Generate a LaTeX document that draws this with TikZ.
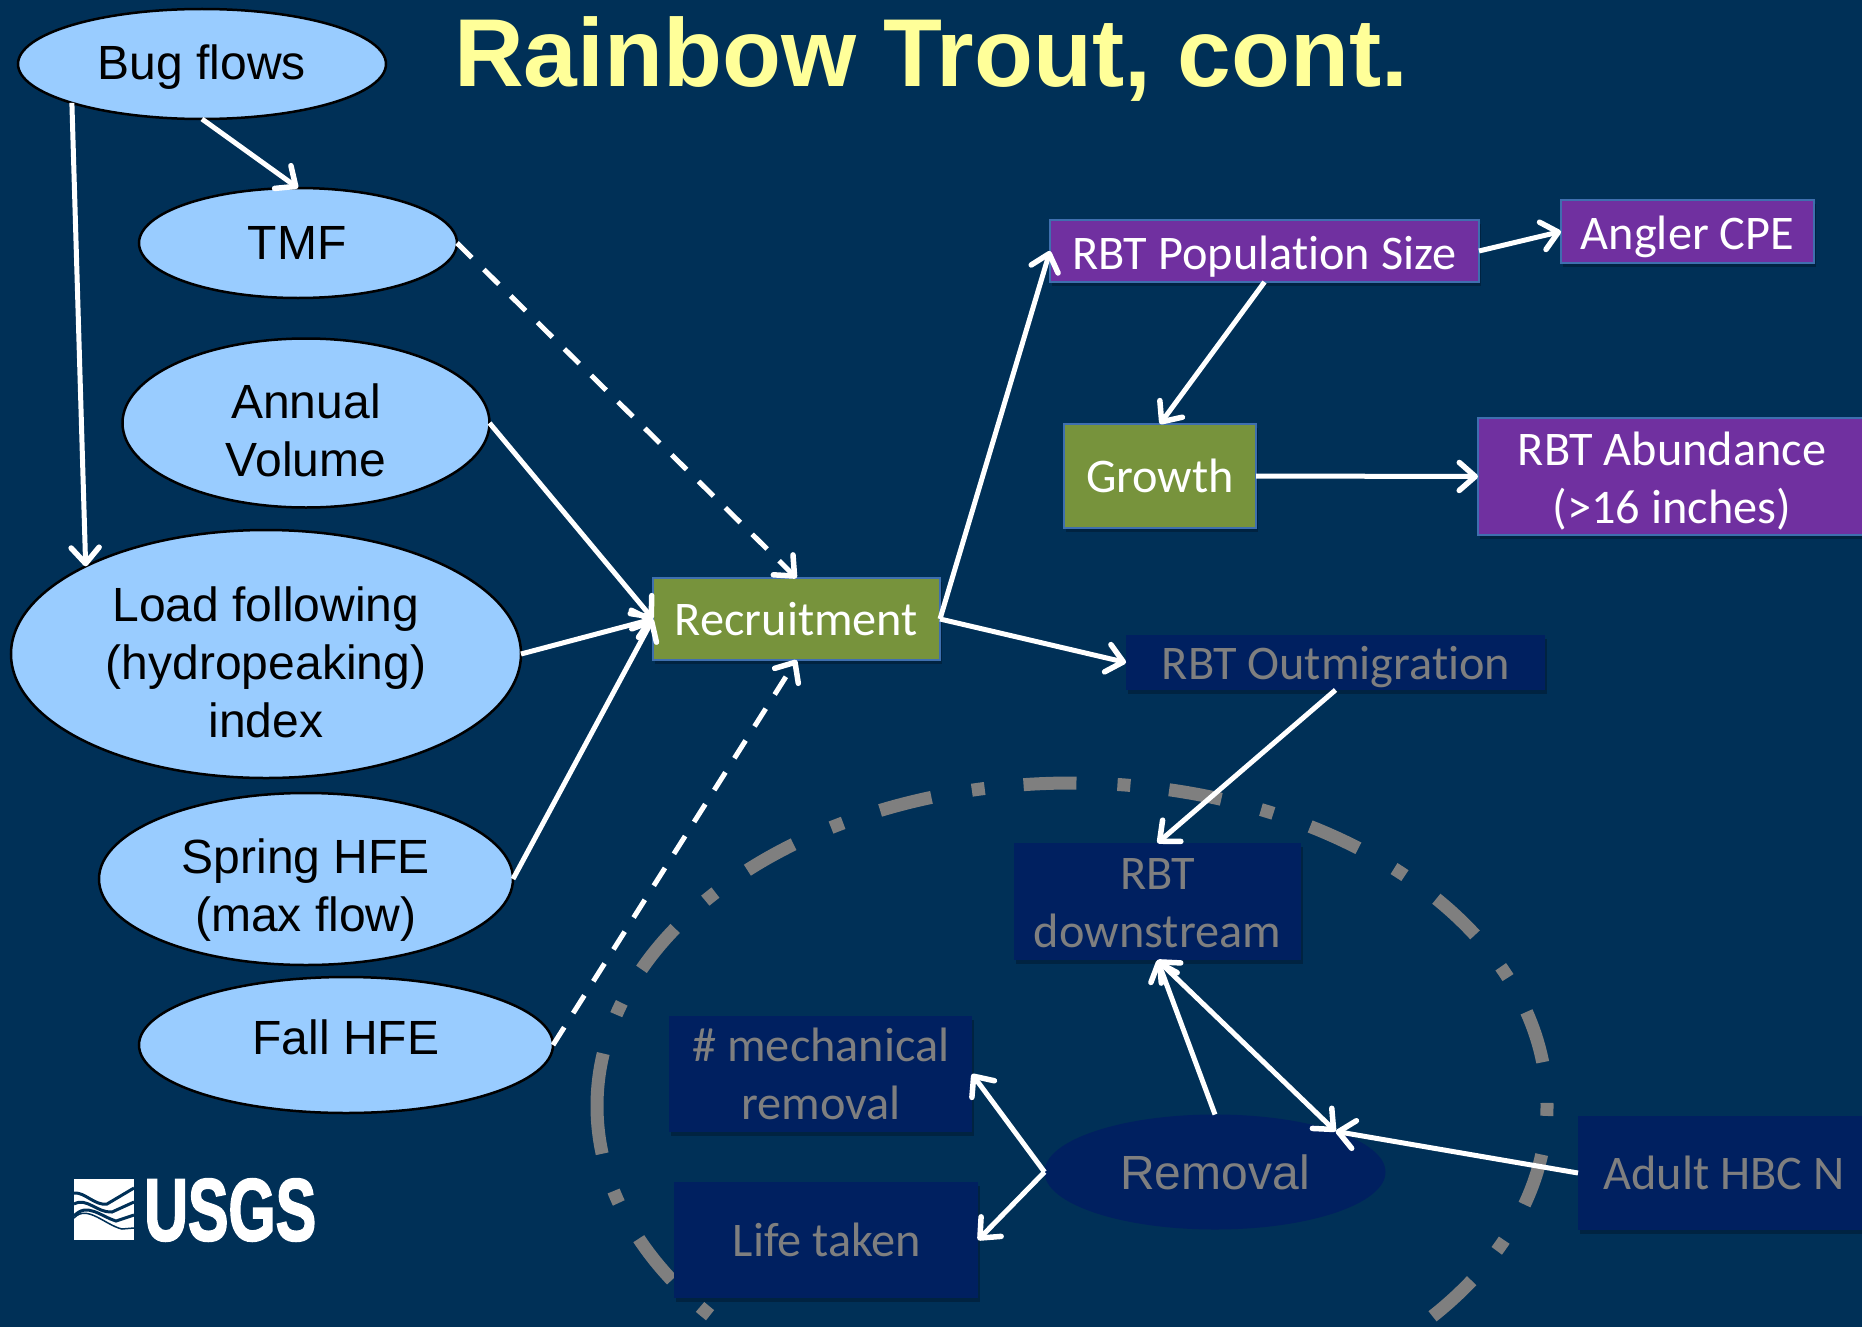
\documentclass[tikz,border=0pt]{standalone}
\usepackage{fontspec}
\setmainfont{Liberation Sans}
\newfontfamily\calfont[Ligatures=NoCommon]{Carlito}
\newfontfamily\usgsfont[BoldFeatures={FakeBold=2.5}]{Liberation Sans}
\usetikzlibrary{arrows.meta,shapes.geometric,shadows}
\definecolor{bg}{HTML}{003057}
\definecolor{ell}{HTML}{99CCFF}
\definecolor{purp}{HTML}{7030A0}
\definecolor{grn}{HTML}{77933C}
\definecolor{dk}{HTML}{002060}
\definecolor{gr}{HTML}{7F7F7F}
\definecolor{edge}{HTML}{3F6FAF}
\definecolor{ttl}{HTML}{FFFF99}
\tikzset{
  x=1pt,y=-1pt,
  ov/.style={ellipse,draw=black,line width=2.5pt,fill=ell,inner sep=0pt,outer sep=0pt},
  ovtext/.style={inner sep=0pt,align=center,font=\fontsize{48}{58}\selectfont,text=black},
  bx/.style={rectangle,inner sep=0pt,outer sep=0pt,
    drop shadow={shadow xshift=2pt,shadow yshift=-4pt,opacity=.25,fill=black}},
  purpbox/.style={bx,fill=purp,draw=edge,line width=2pt},
  grnbox/.style={bx,fill=grn,draw=edge,line width=2pt},
  dkbox/.style={bx,fill=dk},
  lighttext/.style={inner sep=0pt,align=center,font=\calfont\fontsize{48.3}{58}\selectfont,text=white},
  dimtext/.style={inner sep=0pt,align=center,font=\calfont\fontsize{48.3}{58}\selectfont,text=gr},
  head/.tip={Straight Barb[length=16pt,width=28pt,line width=5.5pt,round]},
  arr/.style={draw=white,line width=5pt,-head},
  dsh/.style={arr,dash pattern=on 21pt off 16.7pt},
}
% box: style, name, left, right, top, bottom
\newcommand{\boxat}[6]{\node[#1,minimum width=#4-#3,minimum height=#6-#5] (#2) at ({(#3+#4)/2},{(#5+#6)/2}) {};}
\begin{document}
\begin{tikzpicture}
\useasboundingbox (0,0) rectangle (1862,1327);
\fill[bg] (0,0) rectangle (1862,1327);
\begin{scope}
\clip (0,0) rectangle (1862,1327);
\draw[gr,line width=13pt,dash pattern=on 53pt off 41pt on 13pt off 39pt] (597,1106) arc[start angle=180,end angle=540,x radius=475,y radius=323];
\end{scope}
\node[font=\bfseries\fontsize{96.5}{100}\selectfont,text=ttl,inner sep=0pt,anchor=west] (title) at (454,59) {Rainbow Trout, cont.};

\node[ov,minimum width=368pt,minimum height=110pt] (bug) at (202,64) {};
\node[ov,minimum width=318pt,minimum height=110pt] (tmf) at (298,243) {};
\node[ov,minimum width=367pt,minimum height=169pt] (vol) at (306,423) {};
\node[ov,minimum width=510pt,minimum height=248pt] (load) at (266,654) {};
\node[ov,minimum width=414pt,minimum height=172pt] (spring) at (306,879) {};
\node[ov,minimum width=414pt,minimum height=136pt] (fall) at (346,1045) {};
\node[ellipse,fill=dk,inner sep=0pt,outer sep=0pt,minimum width=341pt,minimum height=115pt] (rem) at (1215,1172) {};

\node[ovtext] (bugt) at (202,67.5) {Bug flows};
\node[ovtext] (tmft) at (297,243) {TMF};
\node[ovtext] (volt) at (306,430) {Annual\\Volume};
\node[ovtext] (loadt) at (266,662) {Load following\\(hydropeaking)\\index};
\node[ovtext] (springt) at (306,890) {Spring HFE\\(max flow)};
\node[ovtext] (fallt) at (346,1037) {Fall HFE};
\node[ovtext,text=gr] (remt) at (1215,1172) {Removal};

\boxat{grnbox}{rec}{653}{940}{578}{660}
\boxat{purpbox}{pop}{1050}{1479}{220}{282}
\boxat{purpbox}{cpe}{1561}{1814}{200}{263}
\boxat{grnbox}{grw}{1064}{1256}{424}{528}
\boxat{purpbox}{abn}{1478}{1868}{418}{535}
\boxat{dkbox}{out}{1126}{1545}{635}{690}
\boxat{dkbox}{dwn}{1014}{1301}{843}{960}
\boxat{dkbox}{mec}{669}{972}{1016}{1132}
\boxat{dkbox}{lif}{674}{978}{1182}{1298}
\boxat{dkbox}{hbc}{1578}{1866}{1116}{1230}

\node[lighttext] (rect) at (796.5,619) {Recruitment};
\node[lighttext] (popt) at (1264.5,257) {RBT Population Size};
\node[lighttext] (cpet) at (1687.5,236.5) {Angler CPE};
\node[lighttext] (grwt) at (1160,476) {Growth};
\node[lighttext] (abnt) at (1672,481.5) {RBT Abundance\\(>16 inches)};
\node[dimtext] (outt) at (1336,667) {RBT Outmigration};
\node[dimtext] (dwnt) at (1157.5,903) {RBT\\downstream};
\node[dimtext] (mect) at (821,1074) {\# mechanical\\removal};
\node[dimtext] (lift) at (827,1240) {Life taken};
\node[dimtext] (hbct) at (1724,1173) {Adult HBC N};

\draw[arr] (bug.south) -- (tmf.north);
\draw[arr] (bug.south west) -- (load.north west);
\draw[dsh] (tmf.east) -- (rec.north);
\draw[arr] (vol.east) -- (rec.west);
\draw[arr] (load.east) -- (rec.west);
\draw[arr] (spring.east) -- (rec.west);
\draw[dsh] (fall.east) -- (rec.south);
\draw[arr] (rec.east) -- (pop.west);
\draw[arr] (rec.east) -- (out.west);
\draw[arr] (pop.east) -- (cpe.west);
\draw[arr] (pop.south) -- (grw.north);
\draw[arr] (grw.east) -- (abn.west);
\draw[arr] (out.south) -- (dwn.north);
\draw[arr] (rem.north) -- (dwn.south);
\draw[draw=white,line width=5pt,head-head] (dwn.south) -- (rem.north east);
\draw[arr] (hbc.west) -- (rem.north east);
\draw[arr] (rem.west) -- (mec.east);
\draw[arr] (rem.west) -- (lif.east);

% USGS logo
\fill[white] (74,1179) rectangle (134,1240);
\begin{scope}
\clip (74,1179) rectangle (134,1240);
\draw[bg,line width=3pt] (74,1193) .. controls (85,1192) and (95,1206) .. (107,1204) -- (134,1188);
\draw[bg,line width=3pt] (74,1204) .. controls (87,1197) and (97,1213) .. (112,1212) -- (134,1202);
\draw[bg,line width=3pt] (74,1216) .. controls (87,1202) and (100,1216) .. (116,1221) -- (134,1215);
\draw[bg,line width=1.5pt] (74,1218) .. controls (87,1204) and (105,1225) .. (122,1229) -- (134,1228);
\end{scope}
\node[font=\usgsfont\bfseries\fontsize{88}{88}\selectfont,text=white,inner sep=0pt,xscale=.69,anchor=west] (usgs) at (144,1210) {USGS};
\end{tikzpicture}
\end{document}
